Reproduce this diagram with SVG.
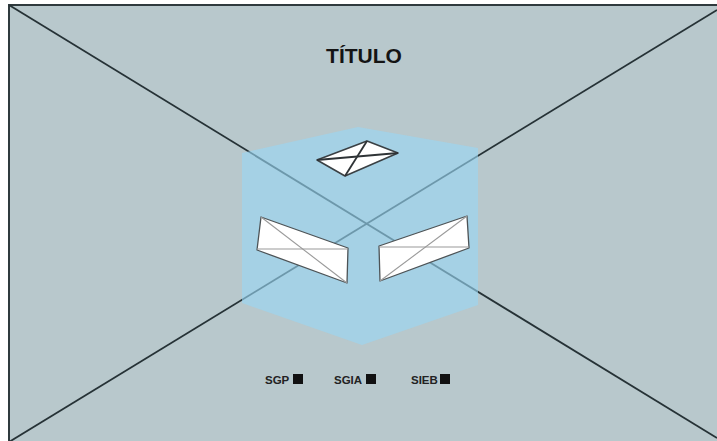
<svg xmlns="http://www.w3.org/2000/svg" width="717" height="441" viewBox="0 0 717 441">
  <style>
    .frame { fill: #b8c8cc; stroke: #2f3a3e; stroke-width: 2; }
    .diag { stroke: #263236; stroke-width: 1.8; fill: none; }
    .cube { fill: #9ad6f4; fill-opacity: 0.62; }
    .panel { fill: #ffffff; stroke: #4d5356; stroke-width: 1.3; stroke-linejoin: round; }
    .lid { fill: #ffffff; stroke: #3a4044; stroke-width: 1.6; stroke-linejoin: round; }
    .fold { stroke: #9a9a9a; stroke-width: 1.1; fill: none; }
    .foldDark { stroke: #2e3336; stroke-width: 1.8; fill: none; }
    .title { font-family: "Liberation Sans", Arial, sans-serif; font-weight: bold; font-size: 21px; fill: #141414; }
    .legend { font-family: "Liberation Sans", Arial, sans-serif; font-weight: bold; font-size: 11.5px; fill: #222222; }
    .swatch { fill: #111111; }
  </style>

  <rect width="717" height="441" fill="#ffffff"/>
  <rect id="frame" class="frame" x="9" y="5" width="730" height="460"/>

  <g id="connectors">
    <line class="diag" x1="9" y1="5" x2="717" y2="438"/>
    <line class="diag" x1="9" y1="442" x2="717" y2="10"/>
  </g>

  <g id="title">
    <text class="title" x="364" y="63" text-anchor="middle">TÍTULO</text>
  </g>

  <g id="cube">
    <polygon class="cube" points="358,127 478,148 478,305 362,345 242,303 242,153"/>
  </g>

  <g id="panel-top">
    <polygon class="lid" points="317,160 367,141 398,153 345,176"/>
    <line class="foldDark" x1="317" y1="160" x2="398" y2="153"/>
    <line class="foldDark" x1="367" y1="141" x2="345" y2="176"/>
  </g>

  <g id="panel-left">
    <polygon class="panel" points="261,217 348,248 347,283 257,250"/>
    <line class="fold" x1="257" y1="249" x2="348" y2="249"/>
    <line class="fold" x1="261" y1="217" x2="347" y2="283"/>
  </g>

  <g id="panel-right">
    <polygon class="panel" points="379,246 467,216 469,248 380,281"/>
    <line class="fold" x1="379" y1="247" x2="469" y2="247"/>
    <line class="fold" x1="467" y1="216" x2="380" y2="281"/>
  </g>

  <g id="legend-sgp">
    <text class="legend" x="265" y="384">SGP</text>
    <rect class="swatch" x="293" y="374" width="10" height="10"/>
  </g>
  <g id="legend-sgia">
    <text class="legend" x="334" y="384">SGIA</text>
    <rect class="swatch" x="366" y="374" width="10" height="10"/>
  </g>
  <g id="legend-sieb">
    <text class="legend" x="411" y="384">SIEB</text>
    <rect class="swatch" x="440" y="374" width="10" height="10"/>
  </g>
</svg>
